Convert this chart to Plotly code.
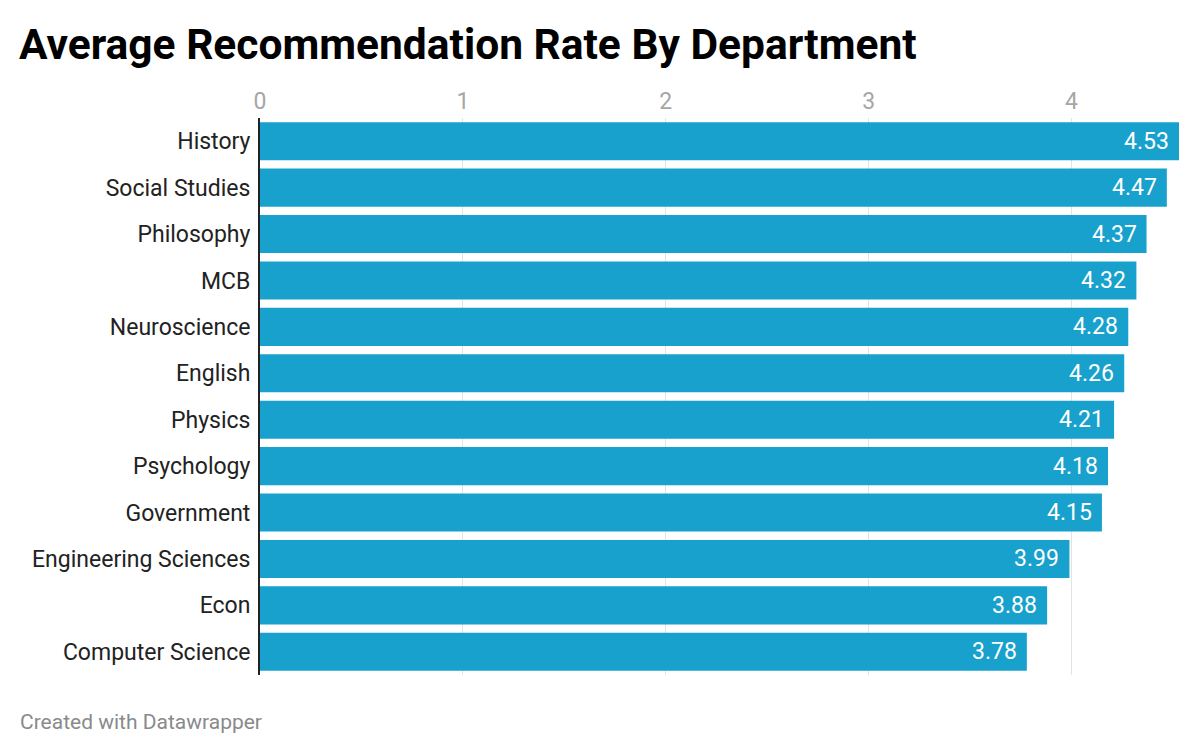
import plotly.graph_objects as go

departments = ["History", "Social Studies", "Philosophy", "MCB", "Neuroscience", "English",
               "Physics", "Psychology", "Government", "Engineering Sciences", "Econ",
               "Computer Science"]
rates = [4.53, 4.47, 4.37, 4.32, 4.28, 4.26, 4.21, 4.18, 4.15, 3.99, 3.88, 3.78]
tick_values = [0, 1, 2, 3, 4]
tick_labels = ["0", "1", "2", "3", "4"]

BAR = "#18a1cd"
FONT = "Roboto"

L, R, T, B = 252, 29, 110, 88
PH = 755 - T - B
PW = 1200 - L - R

fig = go.Figure()
fig.add_trace(go.Bar(
    x=rates, y=departments, orientation="h",
    marker=dict(color=BAR, line=dict(width=0)),
    hoverinfo="skip",
))

for d, v in zip(departments, rates):
    fig.add_annotation(x=v, y=d, xref="x", yref="y", text=f"{v:.2f}",
                       showarrow=False, xanchor="right", xshift=-8,
                       font=dict(family=FONT, size=23, color="white"))

fig.update_layout(
    width=1200, height=755,
    margin=dict(l=L, r=R, t=T, b=B),
    paper_bgcolor="white", plot_bgcolor="white",
    bargap=0.18,
    showlegend=False,
    font=dict(family=FONT),
    title=dict(text="<b>Average Recommendation Rate By Department</b>",
               font=dict(family=FONT, size=42.5, color="#000000"),
               xref="container", x=11/1200, xanchor="left",
               yref="container", y=1 - 21/755, yanchor="top"),
    xaxis=dict(side="top", range=[0, 4.53], tickvals=tick_values, ticktext=tick_labels,
               showgrid=True, gridcolor="#e3e3e3", gridwidth=1, zeroline=False,
               showline=False, ticks="", tickfont=dict(family=FONT, size=23, color="#a6a6a6"),
               ticklabelstandoff=3, fixedrange=True),
    yaxis=dict(autorange="reversed", showgrid=False, zeroline=False,
               showline=True, linecolor="#222222", linewidth=2, ticks="",
               tickfont=dict(family=FONT, size=23, color="#222222"),
               ticklabelstandoff=3, fixedrange=True),
)

fig.add_annotation(text="Created with Datawrapper", xref="paper", yref="paper",
                   x=(10 - L) / PW, y=-(714 - (755 - B)) / PH, xanchor="left", yanchor="middle",
                   showarrow=False, font=dict(family=FONT, size=21, color="#8a8a8a"))

fig.write_html("out.html")
